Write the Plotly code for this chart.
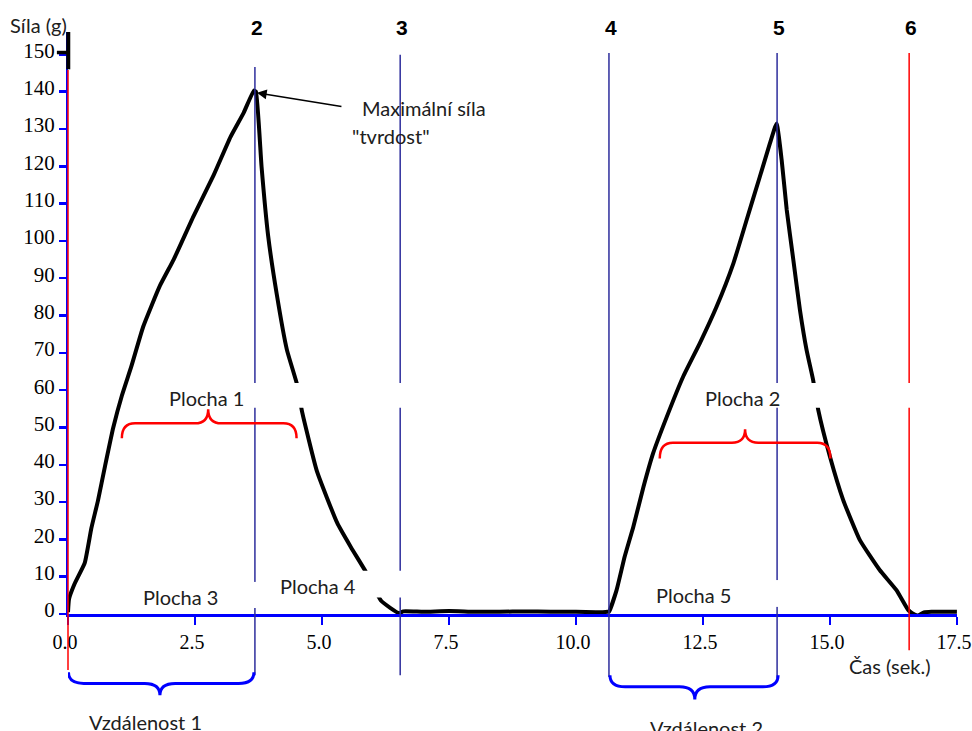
import plotly.graph_objects as go

# ---------------- data ----------------
rise1_t = [0.0, 0.02, 0.13, 0.33, 0.46, 0.59, 0.73, 0.89, 1.06, 1.25, 1.48, 1.81, 2.08, 2.47, 2.87, 3.20, 3.46, 3.66]
rise1_f = [0.5, 4.0, 8.1, 13.7, 23.0, 30.4, 39.7, 49.9, 58.5, 66.5, 77.0, 88.0, 95.0, 106.6, 117.7, 127.9, 134.4, 140.3]

fall1_t = [3.70, 3.81, 3.94, 4.11, 4.31, 4.51, 4.61, 4.90, 5.30, 5.57, 5.86, 6.16, 6.35, 6.52]
fall1_f = [140.0, 120.0, 101.4, 85.7, 70.8, 61.5, 54.1, 38.3, 24.4, 17.9, 11.4, 3.6, 1.6, 0.2]

flat_t = [6.60, 7.0, 7.5, 8.0, 8.5, 9.0, 9.5, 10.0, 10.5, 10.62]
flat_f = [0.7, 0.6, 0.8, 0.6, 0.6, 0.7, 0.6, 0.6, 0.5, 0.6]

rise2_t = [10.65, 10.80, 10.96, 11.13, 11.33, 11.52, 11.79, 12.11, 12.44, 12.77, 13.10, 13.36, 13.62, 13.82, 13.95]
rise2_f = [0.6, 6.4, 15.4, 23.4, 34.1, 43.1, 52.9, 63.6, 72.6, 82.4, 94.0, 105.6, 117.2, 126.2, 131.5]

fall2_t = [14.05, 14.15, 14.28, 14.41, 14.54, 14.67, 14.77, 15.00, 15.26, 15.59, 15.98, 16.31, 16.54, 16.62, 16.73, 16.85, 17.0, 17.5]
fall2_f = [121.7, 108.3, 94.9, 81.5, 70.8, 62.7, 54.7, 42.2, 30.6, 19.8, 11.8, 6.4, 1.1, 0.2, -0.4, 0.4, 0.6, 0.6]

marker_t = [0.0, 3.68, 6.54, 10.65, 13.96, 16.56]
marker_names = ["", "2", "3", "4", "5", "6"]

x_tickvals = [0, 2.5, 5.0, 7.5, 10.0, 12.5, 15.0, 17.5]
x_ticktext = ["0.0", "2.5", "5.0", "7.5", "10.0", "12.5", "15.0", "17.5"]
y_tickvals = [0, 10, 20, 30, 40, 50, 60, 70, 80, 90, 100, 110, 120, 130, 140, 150]

area_labels = ["Plocha 1", "Plocha 2", "Plocha 3", "Plocha 4", "Plocha 5"]
distance_labels = ["Vzdálenost 1", "Vzdálenost 2"]

# ---------------- figure ----------------
time_s = rise1_t + fall1_t + flat_t + rise2_t + fall2_t
force_g = rise1_f + fall1_f + flat_f + rise2_f + fall2_f

Y_TOP = 156.0
X_MAX = 17.502


def yp(f):
    """force units -> paper fraction (allows drawing below the x axis)"""
    return f / Y_TOP


fig = go.Figure()
fig.add_trace(go.Scatter(x=time_s, y=force_g, mode="lines",
                         line=dict(color="black", width=4, shape="spline", smoothing=0.4),
                         hoverinfo="skip", showlegend=False))

NAVY = "#2d2d9c"
RED = "#ff0000"
BLUE = "#0000ff"
TXT = "#202020"
SANS = "Lato"
SERIF = "Liberation Serif"

shapes = []
# vertical marker lines (top, bottom in force units)
line_ext = [(145.8, -15.0), (146.6, -16.4), (149.9, -16.4), (150.4, -16.9), (150.4, -17.2), (150.4, -9.7)]
line_col = [RED, NAVY, NAVY, NAVY, NAVY, RED]
for i, (t, (top, bot), c) in enumerate(zip(marker_t, line_ext, line_col)):
    if i == 0:
        shapes.append(dict(type="line", xref="paper", yref="paper", x0=0, x1=0,
                           y0=yp(bot), y1=yp(top), line=dict(color=c, width=1.5), layer="above"))
    else:
        shapes.append(dict(type="line", xref="x", yref="paper", x0=t, x1=t,
                           y0=yp(bot), y1=yp(top), line=dict(color=c, width=1.5), layer="above"))

# white text-box areas that interrupt lines and curve
boxes = [(3.50, 6.75, 55.3, 61.9), (13.72, 16.75, 55.3, 61.9),
         (3.58, 3.82, 1.6, 8.6), (5.70, 6.65, 4.4, 11.6), (13.82, 14.11, 1.9, 9.1)]
for x0, x1, y0, y1 in boxes:
    shapes.append(dict(type="rect", xref="x", yref="y", x0=x0, x1=x1, y0=y0, y1=y1,
                       fillcolor="white", line=dict(width=0), layer="above"))

# black top segment of the y axis and its 150 tick
shapes.append(dict(type="line", xref="paper", yref="y", x0=0.0003, x1=0.0003, y0=146, y1=156,
                   line=dict(color="black", width=4), layer="above"))
shapes.append(dict(type="line", xref="paper", yref="y", x0=-0.0125, x1=0.0, y0=150.5, y1=150.5,
                   line=dict(color="black", width=3.5), layer="above"))


def brace(x0, x1, xm, yend, ymid, ytip, r):
    return (f"M {x0},{yend} Q {x0},{ymid} {x0 + r},{ymid} "
            f"L {xm - r},{ymid} Q {xm},{ymid} {xm},{ytip} "
            f"Q {xm},{ymid} {xm + r},{ymid} "
            f"L {x1 - r},{ymid} Q {x1},{ymid} {x1},{yend}")


# red braces (inside the plot)
shapes.append(dict(type="path", xref="x", yref="y",
                   path=brace(1.06, 4.50, 2.76, 47.1, 51.1, 54.9, 0.26),
                   line=dict(color=RED, width=2.5), layer="above"))
shapes.append(dict(type="path", xref="x", yref="y",
                   path=brace(11.65, 15.01, 13.33, 41.7, 45.9, 49.5, 0.26),
                   line=dict(color=RED, width=2.5), layer="above"))
# blue braces (below the axis)
shapes.append(dict(type="path", xref="x", yref="paper",
                   path=brace(0.01, 3.66, 1.81, yp(-15.6), yp(-18.6), yp(-21.8), 0.3),
                   line=dict(color=BLUE, width=3), layer="above"))
shapes.append(dict(type="path", xref="x", yref="paper",
                   path=brace(10.67, 13.98, 12.34, yp(-16.4), yp(-19.5), yp(-22.9), 0.3),
                   line=dict(color=BLUE, width=3), layer="above"))

ann = []
# marker numbers on top
for t, name in zip(marker_t, marker_names):
    if name:
        ann.append(dict(x=t, y=yp(157.1), xref="x", yref="paper", text=f"<b>{name}</b>",
                        showarrow=False, xshift=2, xanchor="center", yanchor="middle",
                        font=dict(family="Liberation Sans", size=21, color="black")))
# arrow to the maximum
ann.append(dict(x=3.72, y=139.7, xref="x", yref="y", ax=86, ay=14, text="",
                showarrow=True, arrowhead=2, arrowsize=1.3, arrowwidth=1.5, arrowcolor="black",
                standoff=0))
ann.append(dict(x=5.75, y=135.7, xref="x", yref="y", text="Maximální síla", showarrow=False,
                xanchor="left", yanchor="middle", font=dict(family=SANS, size=20, color=TXT)))
ann.append(dict(x=5.55, y=128.2, xref="x", yref="y", text="\"tvrdost\"", showarrow=False,
                xanchor="left", yanchor="middle", font=dict(family=SANS, size=20, color=TXT)))
# area labels
area_pos = [(2.726, 57.9), (13.28, 57.9), (2.215, 4.6), (4.92, 7.5), (12.32, 5.1)]
for lab, (x, y) in zip(area_labels, area_pos):
    ann.append(dict(x=x, y=y, xref="x", yref="y", text=lab, showarrow=False,
                    xanchor="center", yanchor="middle",
                    font=dict(family=SANS, size=20, color=TXT)))
# distance labels
dist_pos = [(1.526, -29.0), (12.58, -30.6)]
for lab, (x, y) in zip(distance_labels, dist_pos):
    ann.append(dict(x=x, y=yp(y), xref="x", yref="paper", text=lab, showarrow=False,
                    xanchor="center", yanchor="middle",
                    font=dict(family=SANS, size=20, color=TXT)))
# axis titles
ann.append(dict(x=-0.0337, y=yp(157.9), xref="paper", yref="paper", text="Síla (g)",
                showarrow=False, xanchor="center", yanchor="middle",
                font=dict(family=SANS, size=20, color=TXT)))
ann.append(dict(x=16.19, y=yp(-13.9), xref="x", yref="paper", text="Čas (sek.)",
                showarrow=False, xanchor="center", yanchor="middle",
                font=dict(family=SANS, size=20, color=TXT)))

fig.update_layout(
    width=972, height=731,
    margin=dict(l=68, r=15, t=32, b=117),
    paper_bgcolor="white", plot_bgcolor="white",
    showlegend=False, hovermode=False,
    shapes=shapes, annotations=ann,
    xaxis=dict(range=[0, X_MAX], showgrid=False, zeroline=False,
               showline=True, linecolor=BLUE, linewidth=3,
               ticks="outside", ticklen=8, tickwidth=2.5, tickcolor=BLUE,
               tickvals=x_tickvals, ticktext=x_ticktext, ticklabelstandoff=0,
               ticklabelshift=-3, ticklabeloverflow="allow", automargin=False,
               tickfont=dict(family=SERIF, size=20, color="black")),
    yaxis=dict(range=[0, Y_TOP], showgrid=False, zeroline=False,
               showline=True, linecolor=BLUE, linewidth=2,
               ticks="outside", ticklen=7, tickwidth=2.5, tickcolor=BLUE,
               tickvals=y_tickvals, ticklabelshift=-4, automargin=False,
               tickfont=dict(family=SERIF, size=21, color="black")),
)

fig.write_html("out.html",
               config={"displayModeBar": False, "staticPlot": True},
               post_script="document.body.style.margin='0';document.body.style.overflow='hidden';")
